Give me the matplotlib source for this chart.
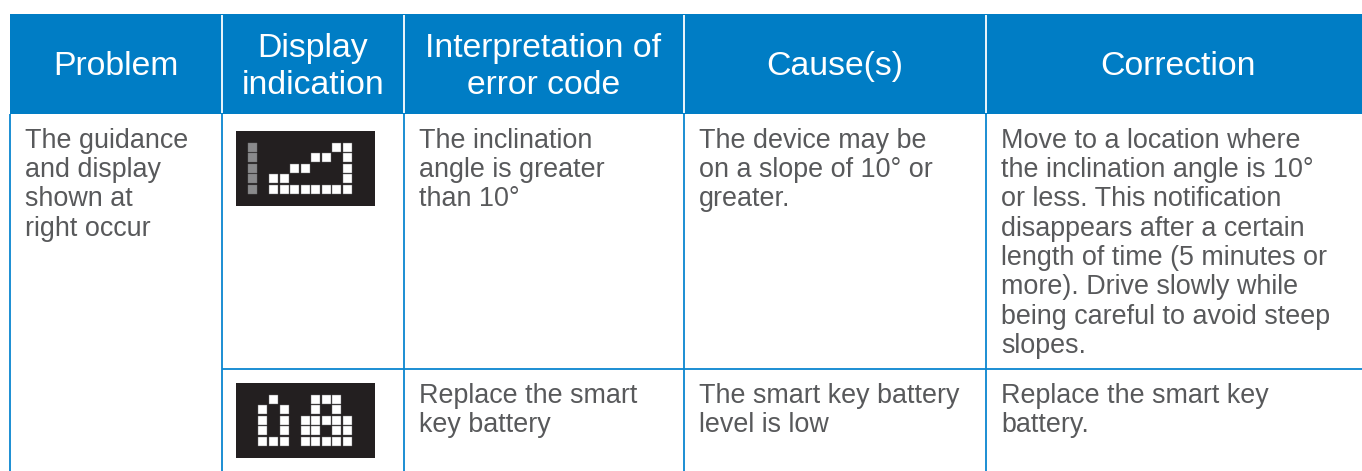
import matplotlib
matplotlib.use("Agg")
import matplotlib.pyplot as plt
from matplotlib.patches import Rectangle

plt.rcParams['font.family'] = ['Liberation Sans', 'DejaVu Sans']

headers = [["Problem"], ["Display", "indication"], ["Interpretation of", "error code"], ["Cause(s)"], ["Correction"]]
problem = ["The guidance", "and display", "shown at", "right occur"]
row1 = [
    ["The inclination", "angle is greater", "than 10°"],
    ["The device may be", "on a slope of 10° or", "greater."],
    ["Move to a location where", "the inclination angle is 10°", "or less. This notification",
     "disappears after a certain", "length of time (5 minutes or", "more). Drive slowly while",
     "being careful to avoid steep", "slopes."],
]
row2 = [
    ["Replace the smart", "key battery"],
    ["The smart key battery", "level is low"],
    ["Replace the smart key", "battery."],
]
# dot matrix screens, w = white dot, g = grey dot
display1 = [
    "g.......ww",
    "g.....ww.w",
    "g...ww...w",
    "g.ww.....w",
    "g.wwwwwwww",
]
display2 = [
    "..w...www.",
    ".w.w..w.w.",
    ".w.w.wwwww",
    ".w.w.ww.ww",
    ".www.wwwww",
]

BLUE = "#007dc5"
LINE = "#0a86d0"
TEXT = "#58595b"
col_x = [10, 222, 404, 684, 986]
head_x = [116, 313, 543.5, 834.5, 1178]

fig = plt.figure(figsize=(13.62, 4.71), dpi=100)
ax = fig.add_axes([0, 0, 1, 1])
ax.set_xlim(0, 1362)
ax.set_ylim(471, 0)
ax.axis("off")

# header band
ax.add_patch(Rectangle((10, 14), 1352, 100, fc=BLUE, ec="none"))
for cx, lines in zip(head_x, headers):
    if len(lines) == 1:
        ax.text(cx, 75, lines[0], color="white", fontsize=24.3, ha="center", va="baseline")
    else:
        ax.text(cx, 57, lines[0], color="white", fontsize=24.3, ha="center", va="baseline")
        ax.text(cx, 93.5, lines[1], color="white", fontsize=24.3, ha="center", va="baseline")
for x in col_x[1:]:
    ax.plot([x, x], [15, 113], color="white", lw=1.3, solid_capstyle="butt")

# grid lines
for x in col_x:
    ax.plot([x, x], [114, 471], color=LINE, lw=1.3, solid_capstyle="butt")
ax.plot([222, 1362], [368.5, 368.5], color=LINE, lw=1.3, solid_capstyle="butt")


def put_lines(x, y0, lines):
    for k, s in enumerate(lines):
        ax.text(x, y0 + k * 29.4, s, color=TEXT, fontsize=19.4, ha="left", va="baseline")


put_lines(25, 147.5, problem)
for x, lines in zip([419, 699, 1001], row1):
    put_lines(x, 147.5, lines)
for x, lines in zip([419, 699, 1001], row2):
    put_lines(x, 403, lines)


def draw_display(x0, y0, y1, rows, left, top):
    ax.add_patch(Rectangle((x0, y0), 138.5, y1 - y0, fc="#231f20", ec="none"))
    pitch = 10.57
    for r, row in enumerate(rows):
        for c, ch in enumerate(row):
            if ch == ".":
                continue
            col = "white" if ch == "w" else "#8a8a8c"
            ax.add_patch(Rectangle((left + c * pitch, top + r * pitch), 9.0, 9.0, fc=col, ec="#6e6e70", lw=0.3))


draw_display(236, 131, 206, display1, 247.9, 142.5)
draw_display(236, 383, 458, display2, 247.9, 394.5)

fig.savefig("out.png", dpi=100)
